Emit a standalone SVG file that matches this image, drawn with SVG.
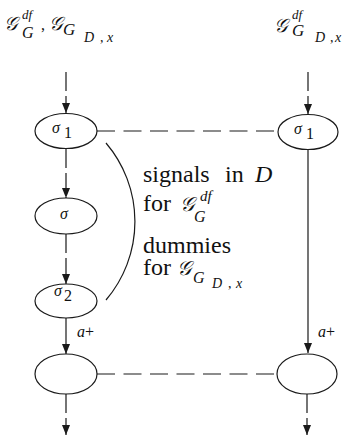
<svg xmlns="http://www.w3.org/2000/svg" width="344" height="442" viewBox="0 0 344 442">
<style>
.node{fill:none;stroke:#1a1a1a;stroke-width:1.2}
.ln{fill:none;stroke:#1a1a1a;stroke-width:1.2}
.vd{stroke-dasharray:19,5}
.hd{stroke-dasharray:18,8.5}
.t{font-family:"Liberation Serif","Times New Roman","DejaVu Serif",serif;fill:#111}
.i{font-style:italic}
.cal{font-family:"DejaVu Sans","Noto Sans",serif;font-style:italic;fill:#111}
</style>
<defs>
<marker id="ah" markerUnits="userSpaceOnUse" markerWidth="10" markerHeight="8" refX="10" refY="4" orient="auto">
<path d="M0,0 L10,4 L0,8 z" fill="#1a1a1a"/>
</marker>
</defs>
<g id="labels">
<text class="cal" x="4" y="30" font-size="19">𝒢</text>
<text class="t i" x="22" y="19" font-size="13">df</text>
<text class="t i" x="22" y="38" font-size="16">G</text>
<text class="t" x="41" y="30" font-size="16">,</text>
<text class="cal" x="49" y="30" font-size="19">𝒢</text>
<text class="t i" x="63" y="35" font-size="17">G</text>
<text class="t i" x="84" y="42" font-size="14">D</text>
<text class="t" x="100" y="42" font-size="14">,</text>
<text class="t i" x="107" y="42" font-size="14">x</text>
<text class="cal" x="274" y="32" font-size="19">𝒢</text>
<text class="t i" x="292" y="19" font-size="13">df</text>
<text class="t i" x="292" y="36" font-size="17">G</text>
<text class="t i" x="315" y="42" font-size="14">D</text>
<text class="t" x="330" y="42" font-size="14">,</text>
<text class="t i" x="335" y="42" font-size="14">x</text>
</g>
<g id="connectors">
<line class="ln vd" x1="66" y1="72" x2="66" y2="113" marker-end="url(#ah)"/>
<line class="ln vd" x1="66" y1="149" x2="66" y2="198" marker-end="url(#ah)"/>
<line class="ln vd" x1="66" y1="234" x2="66" y2="284" marker-end="url(#ah)"/>
<line class="ln" x1="66" y1="318" x2="66" y2="354" marker-end="url(#ah)"/>
<line class="ln vd" x1="66" y1="394" x2="66" y2="435" marker-end="url(#ah)"/>
<line class="ln vd" x1="308" y1="72" x2="308" y2="114" marker-end="url(#ah)"/>
<line class="ln" x1="308" y1="150" x2="308" y2="353" marker-end="url(#ah)"/>
<line class="ln vd" x1="307" y1="394" x2="307" y2="435" marker-end="url(#ah)"/>
<line class="ln hd" x1="97" y1="131" x2="278" y2="131"/>
<line class="ln hd" x1="97" y1="374" x2="277" y2="374"/>
<path class="ln" d="M106,143 A121,121 0 0 1 106,300"/>
<text class="t" font-size="16" x="77" y="337"><tspan class="i">a</tspan>+</text>
<text class="t" font-size="16" x="318" y="337"><tspan class="i">a</tspan>+</text>
</g>
<g id="n_sigma1_left">
<ellipse class="node" cx="66" cy="131" rx="31" ry="17.5"/>
<text class="t i" x="52" y="133" font-size="16">σ</text>
<text class="t" x="64" y="138" font-size="16">1</text>
</g>
<g id="n_sigma_left">
<ellipse class="node" cx="66" cy="216" rx="31" ry="18"/>
<text class="t i" x="60" y="219" font-size="16">σ</text>
</g>
<g id="n_sigma2_left">
<ellipse class="node" cx="66" cy="301" rx="31" ry="17"/>
<text class="t i" x="54" y="296" font-size="16">σ</text>
<text class="t" x="64" y="301" font-size="16">2</text>
</g>
<g id="n_bottom_left">
<ellipse class="node" cx="66" cy="374" rx="31" ry="20"/>
</g>
<g id="n_sigma1_right">
<ellipse class="node" cx="308" cy="132" rx="30" ry="17.5"/>
<text class="t i" x="294" y="134" font-size="16">σ</text>
<text class="t" x="306" y="139" font-size="16">1</text>
</g>
<g id="n_bottom_right">
<ellipse class="node" cx="307" cy="374" rx="30" ry="20"/>
</g>
<g id="annotation">
<text class="t" font-size="24" y="182"><tspan x="143">signals</tspan><tspan x="225">in</tspan><tspan x="255" class="i">D</tspan></text>
<text class="t" font-size="24" x="143" y="211">for</text>
<text class="cal" x="180" y="211" font-size="20">𝒢</text>
<text class="t i" x="200" y="201" font-size="15">df</text>
<text class="t i" x="194" y="222" font-size="16">G</text>
<text class="t" font-size="24" x="143" y="253">dummies</text>
<text class="t" font-size="24" x="143" y="275">for</text>
<text class="cal" x="177" y="275" font-size="20">𝒢</text>
<text class="t i" x="193" y="283" font-size="16">G</text>
<text class="t i" x="212" y="288" font-size="14">D</text>
<text class="t" x="228" y="288" font-size="14">,</text>
<text class="t i" x="236" y="288" font-size="14">x</text>
</g>
</svg>
